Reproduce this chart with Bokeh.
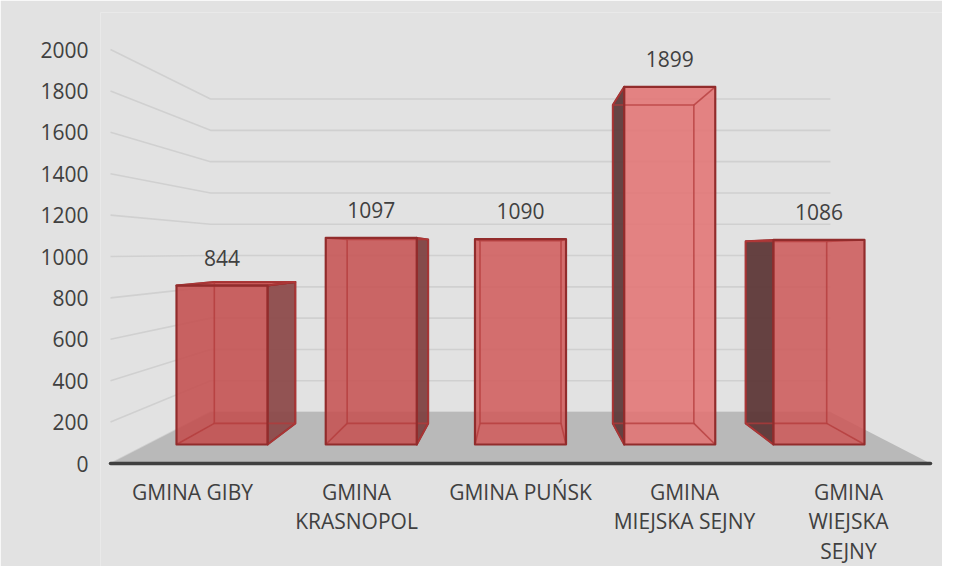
from bokeh.plotting import figure
from bokeh.models import Range1d, FixedTicker
from bokeh.core.properties import value
from bokeh.embed import file_html
from bokeh.resources import INLINE

# ---------------- data ----------------
categories = ["GMINA GIBY", "GMINA KRASNOPOL", "GMINA PUŃSK",
              "GMINA MIEJSKA SEJNY", "GMINA WIEJSKA SEJNY"]
category_labels = ["GMINA GIBY", "GMINA\nKRASNOPOL", "GMINA PUŃSK",
                   "GMINA\nMIEJSKA SEJNY", "GMINA\nWIEJSKA\nSEJNY"]
values = [844, 1097, 1090, 1899, 1086]
y_ticks = [0, 200, 400, 600, 800, 1000, 1200, 1400, 1600, 1800, 2000]

# ---------------- style / view geometry ----------------
FONT = "Open Sans"
TXT = "#404040"
BG = "#e2e2e2"
front_colors = ["#c44c4c", "#c65050", "#d05b5b", "#e37272", "#cd5959"]
side_colors = ["#8b4646", "#7d3e3e", "#6a3a3a", "#5c3636", "#5a3333"]

PX = 414.0 / 2000.0        # screen px per value unit on the front plane
X_VP, V_VP = 2.5, 1019.0   # vanishing point (category units, value units)
S_FRONT, S_WALL = 1.0, 0.756
S_BAR_F, S_BAR_B = 0.91, 0.81
HALF = 0.305


def proj(x, v, s):
    return X_VP + (x - X_VP) * s, V_VP + (v - V_VP) * s


def poly(pts):
    return [q[0] for q in pts], [q[1] for q in pts]


p = figure(width=942, height=566,
           x_range=Range1d(-10 / 164.0, 832 / 164.0),
           y_range=Range1d(-103 / PX, 451 / PX),
           x_axis_location=None, y_axis_location="left",
           output_backend="svg", toolbar_location=None,
           min_border_left=100, min_border_right=0,
           min_border_top=12, min_border_bottom=0,
           background_fill_color=BG, border_fill_color=BG)
p.outline_line_color = None
p.grid.visible = False

ax = p.yaxis[0]
ax.ticker = FixedTicker(ticks=y_ticks)
ax.axis_line_color = None
ax.major_tick_line_color = None
ax.minor_tick_line_color = None
ax.major_tick_out = 0
ax.major_tick_in = 0
ax.major_label_standoff = 12
ax.major_label_text_font = FONT
ax.major_label_text_font_size = "21px"
ax.major_label_text_color = TXT

n = len(values)

# gridlines on side wall and back wall
gx, gy = [], []
for t in y_ticks:
    pts = [proj(0, t, S_FRONT), proj(0, t, S_WALL), proj(n, t, S_WALL)]
    xs, ys = poly(pts)
    gx.append(xs)
    gy.append(ys)
p.multi_line(gx, gy, line_color="#d0d0d0", line_width=1.6)

# floor
fx, fy = poly([proj(0, 0, S_FRONT), proj(n, 0, S_FRONT),
               proj(n, 0, S_WALL), proj(0, 0, S_WALL)])
p.patch(fx, fy, fill_color="#b9b9b9", line_color=None)
lx, ly = poly([proj(0, 0, S_FRONT), proj(n, 0, S_FRONT)])
p.line(lx, ly, line_color="#3f3f3f", line_width=3.5, line_cap="round")

# bars
for i, v in enumerate(values):
    x0, x1 = i + 0.5 - HALF, i + 0.5 + HALF
    F = [proj(x0, 0, S_BAR_F), proj(x1, 0, S_BAR_F), proj(x1, v, S_BAR_F), proj(x0, v, S_BAR_F)]
    B = [proj(x0, 0, S_BAR_B), proj(x1, 0, S_BAR_B), proj(x1, v, S_BAR_B), proj(x0, v, S_BAR_B)]
    extra = []
    if x1 < X_VP:
        extra.append(([F[1], F[2], B[2], B[1]], side_colors[i]))
    if x0 > X_VP:
        extra.append(([F[0], F[3], B[3], B[0]], side_colors[i]))
    if v < V_VP:
        extra.append(([F[3], F[2], B[2], B[3]], front_colors[i]))
    for pts, col in extra:
        xs, ys = poly(pts)
        p.patch(xs, ys, fill_color=col, fill_alpha=0.92,
                line_color="#922c2c", line_width=2, line_join="round")
    xs, ys = poly(F)
    p.patch(xs, ys, fill_color=front_colors[i], fill_alpha=0.86, line_color=None)
    hx, hy = [], []
    bxs, bys = poly(B + [B[0]])
    hx.append(bxs)
    hy.append(bys)
    for k in range(4):
        ex, ey = poly([F[k], B[k]])
        hx.append(ex)
        hy.append(ey)
    p.multi_line(hx, hy, line_color="#b33a3a", line_alpha=0.75, line_width=1.6)
    p.patch(xs, ys, fill_color=None, line_color="#922c2c", line_width=2.2,
            line_join="round")

# data labels
lab_x, lab_y = [], []
for i, v in enumerate(values):
    cx, cv = proj(i + 0.5, v, S_BAR_F)
    lab_x.append(cx)
    lab_y.append(cv + 28 / PX)
p.text(lab_x, lab_y, text=[str(v) for v in values], text_align="center",
       text_baseline="middle", text_font=value(FONT), text_font_size="21px",
       text_color=TXT)

# category labels
cat_x = [i + 0.5 for i in range(n)]
cat_y = [(463 - 477) / PX] * n
p.text(cat_x, cat_y, text=category_labels, text_align="center",
       text_baseline="top", text_font=value(FONT), text_font_size="21px",
       text_color=TXT, text_line_height=1.07)

open("out.html", "w").write(file_html(p, INLINE))
